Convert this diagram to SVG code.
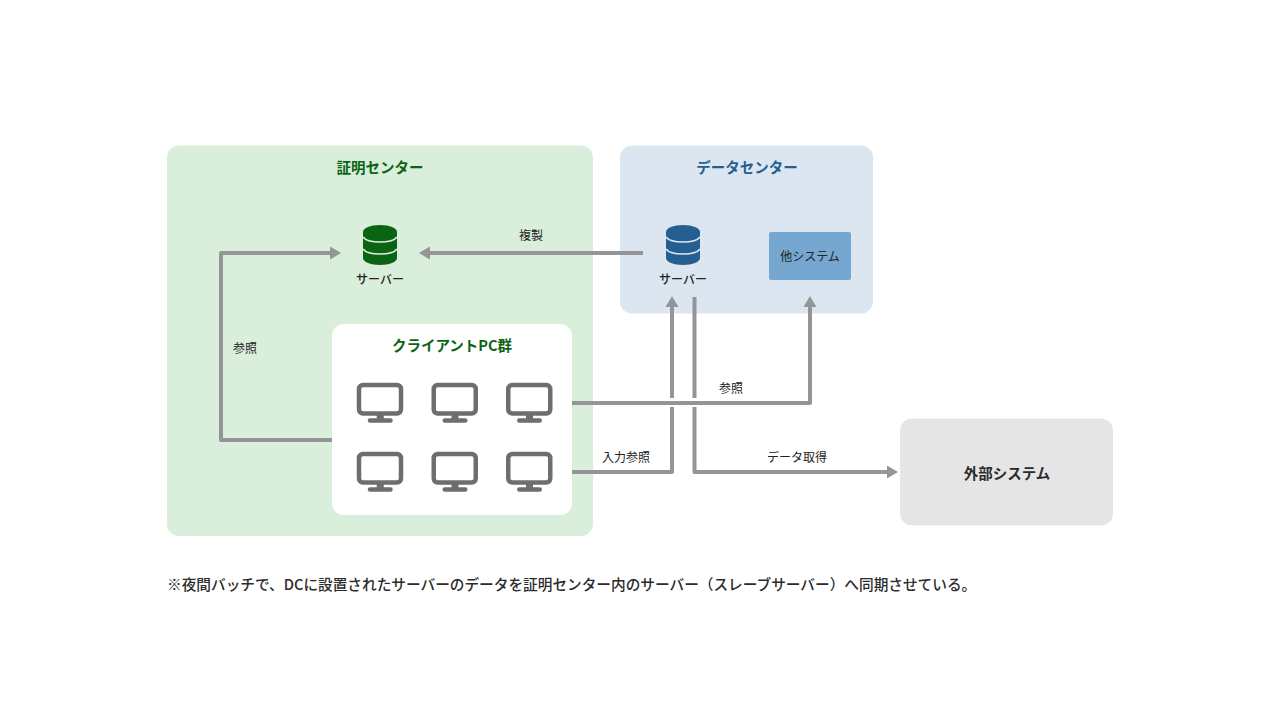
<svg xmlns="http://www.w3.org/2000/svg" width="1280" height="720" viewBox="0 0 1280 720">
<style>
text{font-family:"Noto Sans CJK JP","Noto Sans",sans-serif;text-anchor:middle;fill:#2b2b2b}
.t{font-size:14.5px;font-weight:700}
.s{font-size:12px;font-weight:400;fill:#222}
.m{font-weight:500}
.c{fill:none;stroke:#959595;stroke-width:4;stroke-linejoin:round}
.h{fill:#959595}
.mon rect.b{fill:none;stroke:#6e6e6e;stroke-width:4.500}
.mon .f{fill:#6e6e6e}
.gap{fill:none;stroke-width:1.600}
</style>
<defs>
<g id="mon" class="mon">
<rect class="b" x="2.250" y="2.250" width="42" height="28.500" rx="4"/>
<rect class="f" x="20" y="32" width="7" height="5"/>
<rect class="f" x="11" y="35.500" width="25" height="4.500" rx="2.250"/>
</g>
<path id="db" d="M0 7C0 3 7.500 0 17 0S34 3 34 7V33C34 37 26.500 40 17 40S0 37 0 33Z"/>
<path id="db-gaps" class="gap" d="M0 12C2.500 15.500 9 17 17 17S31.500 15.500 34 12M0 24C2.500 27.500 9 29 17 29S31.500 27.500 34 24"/>
</defs>
<rect width="1280" height="720" fill="#fff"/>
<g id="shoumei-center">
<rect x="167" y="145.500" width="426" height="390.500" rx="12" fill="#d9eedb"/>
<text class="t" x="380" y="173" style="fill:#0b6414">証明センター</text>
</g>
<g id="data-center">
<rect x="620" y="145.500" width="253" height="168" rx="12" fill="#dbe6f0"/>
<text class="t" x="747" y="173" style="fill:#255f91">データセンター</text>
</g>
<g id="connectors">
<path class="c" d="M332 440H221V253H332"/>
<path class="h" d="M341 253L330 246.500V259.500Z"/>
<path class="c" d="M643 253H428"/>
<path class="h" d="M419 253L430 246.500V259.500Z"/>
<path class="c" d="M572 403H810V305"/>
<path class="h" d="M810 296L803.500 307H816.500Z"/>
<path class="c" d="M572 472H672V407M672 398V305"/>
<path class="h" d="M672 296L665.500 307H678.500Z"/>
<path class="c" d="M694.500 297V398M694.500 407V472H888"/>
<path class="h" d="M898 472L887 465.500V478.500Z"/>
</g>
<g id="server-main">
<use href="#db" x="363" y="225" fill="#0b6414"/>
<use href="#db-gaps" x="363" y="225" stroke="#d9eedb"/>
<text class="s m" x="380" y="284">サーバー</text>
</g>
<g id="server-data">
<use href="#db" x="666" y="225" fill="#255f91"/>
<use href="#db-gaps" x="666" y="225" stroke="#dbe6f0"/>
<text class="s m" x="683" y="284">サーバー</text>
</g>
<g id="other-system">
<rect x="769" y="232" width="82" height="48" rx="2" fill="#75a7d0"/>
<text class="s" x="810" y="261">他システム</text>
</g>
<g id="client-pcs">
<rect x="332" y="324" width="240" height="191" rx="12" fill="#fff"/>
<text class="t" x="452" y="351" style="fill:#0b6414">クライアントPC群</text>
<use href="#mon" x="356.750" y="382.750"/>
<use href="#mon" x="431.500" y="382.750"/>
<use href="#mon" x="506" y="382.750"/>
<use href="#mon" x="356.750" y="451.750"/>
<use href="#mon" x="431.500" y="451.750"/>
<use href="#mon" x="506" y="451.750"/>
</g>
<g id="external-system">
<rect x="900" y="418.500" width="213" height="107" rx="12" fill="#e5e5e5"/>
<text class="t" x="1007" y="478.500">外部システム</text>
</g>
<g id="labels">
<text class="s" x="531" y="240">複製</text>
<text class="s" x="245" y="352.500">参照</text>
<text class="s" x="731" y="392.500">参照</text>
<text class="s" x="626" y="461.500">入力参照</text>
<text class="s" x="797" y="461.500">データ取得</text>
</g>
<text id="note" x="167" y="590" style="text-anchor:start;font-size:14.670px;font-weight:500">※夜間バッチで、DCに設置されたサーバーのデータを証明センター内のサーバー（スレーブサーバー）へ同期させている。</text>
</svg>
